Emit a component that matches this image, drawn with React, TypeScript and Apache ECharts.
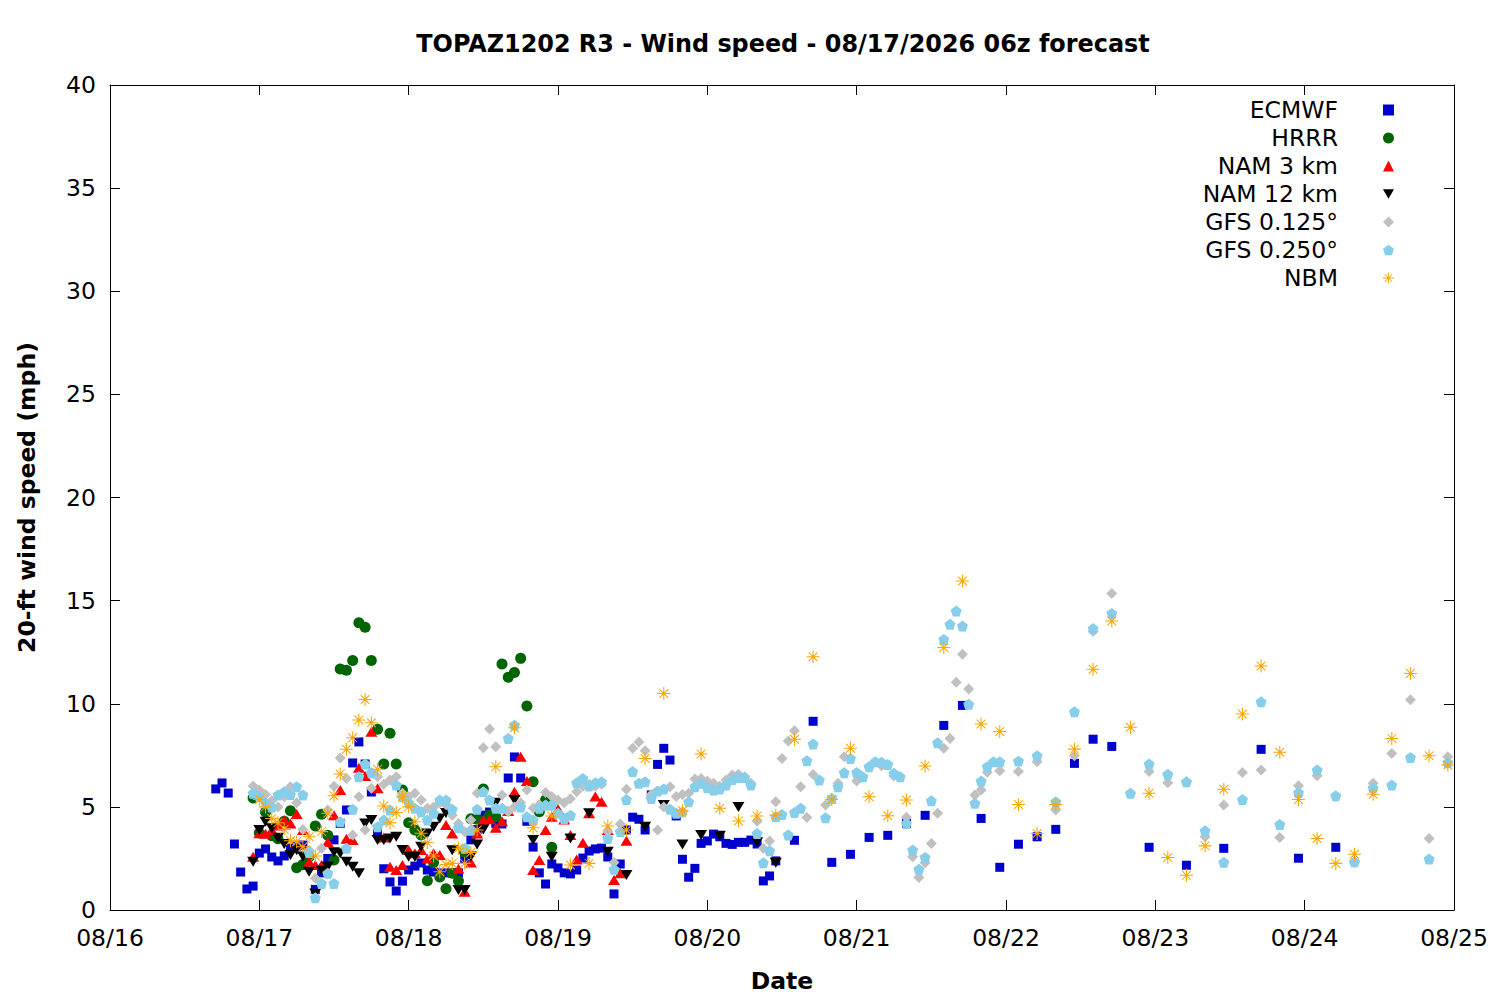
import React, { useEffect, useRef } from 'react';
import * as echarts from 'echarts';

// x values are hours since 08/16 00z
const dateLabels = ['08/16', '08/17', '08/18', '08/19', '08/20', '08/21', '08/22', '08/23', '08/24', '08/25'];
const yTicks = [0, 5, 10, 15, 20, 25, 30, 35, 40];
const seriesNames = ['ECMWF', 'HRRR', 'NAM 3 km', 'NAM 12 km', 'GFS 0.125°', 'GFS 0.250°', 'NBM'];

const ecmwf: number[][] = [
  [17, 5.87], [18, 6.16], [19, 5.67], [20, 3.2], [21, 1.84], [22, 1.02], [23, 1.16], [24, 2.76], [25, 2.96], [26, 2.57],
  [27, 2.38], [28, 2.62], [29, 3.0], [30, 3.1], [31, 3.15], [32, 2.67], [33, 1.0], [34, 1.8], [35, 2.5], [36, 3.4],
  [37, 4.2], [38, 4.85], [39, 7.13], [40, 8.15], [41, 7.08], [42, 5.72], [43, 3.78], [44, 2.0], [45, 1.36], [46, 0.92],
  [47, 1.4], [48, 1.94], [49, 2.13], [50, 2.28], [51, 1.94], [52, 1.84], [53, 1.8], [54, 1.8], [55, 1.8], [56, 1.8],
  [57, 2.5], [58, 3.4], [59, 3.9], [60, 4.6], [61, 4.75], [62, 4.2], [63, 4.17], [64, 6.4], [65, 7.42], [66, 6.4],
  [67, 4.3], [68, 3.05], [69, 1.8], [70, 1.26], [71, 2.23], [72, 2.04], [73, 1.8], [74, 1.75], [75, 1.94], [76, 2.52],
  [77, 2.86], [78, 2.96], [79, 3.0], [80, 2.57], [81, 0.78], [82, 2.23], [83, 3.88], [84, 4.5], [85, 4.4], [86, 3.88],
  [87, 5.58], [88, 7.06], [89, 7.84], [90, 7.27], [91, 4.56], [92, 2.46], [93, 1.59], [94, 2.02], [95, 3.23], [96, 3.35],
  [97, 3.68], [98, 3.55], [99, 3.23], [100, 3.18], [101, 3.28], [102, 3.28], [103, 3.39], [104, 3.2], [105, 1.41], [106, 1.65],
  [107, 2.38], [110, 3.38], [113, 9.15], [116, 2.31], [119, 2.7], [122, 3.52], [125, 3.62], [128, 4.2], [131, 4.59], [134, 8.95],
  [137, 9.92], [140, 4.44], [143, 2.07], [146, 3.19], [149, 3.55], [152, 3.91], [155, 7.11], [158, 8.28], [161, 7.93], [167, 3.04],
  [173, 2.17], [179, 2.99], [185, 7.79], [191, 2.51], [197, 3.04],
];

const hrrr: number[][] = [
  [23, 5.43], [24, 3.73], [25, 4.75], [26, 3.6], [27, 3.45], [28, 4.3], [29, 4.81], [30, 2.05], [31, 2.2], [32, 2.58],
  [33, 4.07], [34, 4.64], [35, 3.62], [36, 2.42], [37, 11.68], [38, 11.62], [39, 12.1], [40, 13.93], [41, 13.71], [42, 12.1],
  [43, 8.76], [44, 7.08], [45, 8.57], [46, 7.08], [47, 5.82], [48, 4.23], [49, 3.88], [50, 3.64], [51, 1.42], [52, 2.3],
  [53, 1.6], [54, 1.03], [55, 1.78], [56, 1.41], [57, 2.8], [58, 4.42], [59, 4.4], [60, 5.87], [61, 4.6], [62, 4.52],
  [63, 11.93], [64, 11.28], [65, 11.52], [66, 12.2], [67, 9.89], [68, 6.22], [69, 4.76], [70, 5.33], [71, 3.04],
];

const nam3: number[][] = [
  [23, 2.58], [24, 3.72], [25, 3.7], [26, 3.88], [27, 4.1], [28, 4.36], [29, 4.2], [30, 4.65], [31, 3.88], [32, 2.34],
  [33, 2.18], [34, 2.18], [35, 3.3], [36, 4.6], [37, 5.82], [38, 3.45], [39, 3.39], [40, 6.9], [41, 6.5], [42, 8.64],
  [43, 5.9], [44, 3.52], [45, 2.1], [46, 1.94], [47, 2.18], [48, 2.91], [49, 2.75], [50, 2.91], [51, 2.5], [52, 2.75],
  [53, 2.67], [54, 4.12], [55, 3.71], [56, 2.0], [57, 0.89], [58, 2.3], [59, 3.71], [60, 4.36], [61, 4.4], [62, 3.99],
  [63, 4.3], [64, 4.8], [65, 5.73], [66, 7.43], [67, 6.25], [68, 1.94], [69, 2.42], [70, 3.88], [71, 4.52], [72, 4.9],
  [73, 4.39], [74, 3.64], [75, 2.45], [76, 3.26], [77, 4.69], [78, 5.5], [79, 5.25], [80, 3.88], [81, 1.45], [82, 1.78],
  [83, 3.36],
];

const nam12: number[][] = [
  [23, 2.34], [24, 3.88], [25, 4.28], [26, 3.96], [27, 3.5], [28, 3.2], [29, 2.67], [30, 2.9], [31, 2.6], [32, 1.85],
  [33, 0.8], [34, 1.9], [35, 2.1], [36, 2.8], [37, 2.75], [38, 2.34], [39, 2.1], [40, 1.78], [41, 4.2], [42, 4.36],
  [43, 3.4], [44, 3.39], [45, 3.47], [46, 3.55], [47, 2.91], [48, 2.58], [49, 2.58], [50, 3.07], [51, 3.71], [52, 4.04],
  [53, 4.44], [54, 4.7], [55, 2.9], [56, 0.97], [57, 0.97], [58, 2.6], [59, 3.17], [60, 3.9], [62, 5.2], [65, 5.33],
  [68, 3.39], [71, 2.58], [74, 3.47], [77, 4.69], [80, 2.82], [83, 1.7], [86, 4.04], [89, 5.09], [92, 3.18], [95, 3.64],
  [98, 3.6], [101, 5.0], [104, 3.28], [107, 2.29],
];

const gfs125: number[][] = [
  [23, 6.01], [24, 5.82], [25, 5.6], [26, 5.3], [27, 5.0], [28, 5.5], [29, 5.98], [30, 5.2], [31, 3.9], [32, 2.9],
  [33, 1.54], [34, 2.99], [35, 4.85], [36, 6.0], [37, 7.37], [38, 6.38], [39, 3.64], [40, 5.49], [41, 3.88], [42, 5.9],
  [43, 6.46], [44, 6.1], [45, 6.3], [46, 6.46], [47, 5.66], [48, 5.5], [49, 5.66], [50, 5.33], [51, 4.93], [52, 5.0],
  [53, 5.2], [54, 5.1], [55, 4.6], [56, 4.2], [57, 3.8], [58, 4.36], [59, 5.66], [60, 7.87], [61, 8.77], [62, 7.92],
  [63, 5.58], [64, 4.76], [65, 5.0], [66, 5.2], [67, 5.82], [68, 4.93], [69, 5.1], [70, 5.7], [71, 5.5], [72, 5.33],
  [73, 5.2], [74, 5.4], [75, 5.73], [76, 6.0], [77, 6.1], [78, 6.0], [79, 6.1], [80, 3.8], [81, 2.3], [82, 4.17],
  [83, 5.85], [84, 7.84], [85, 8.15], [86, 7.72], [87, 5.6], [88, 3.88], [89, 5.0], [90, 5.98], [91, 5.5], [92, 5.6],
  [93, 5.66], [94, 6.35], [95, 6.38], [96, 6.25], [97, 6.14], [98, 6.0], [99, 6.3], [100, 6.55], [101, 6.58], [102, 6.46],
  [103, 6.14], [104, 4.3], [105, 3.0], [106, 3.35], [107, 5.25], [108, 7.35], [109, 8.19], [110, 8.69], [111, 5.98], [112, 4.49],
  [113, 6.57], [115, 5.09], [117, 6.14], [118, 7.43], [120, 6.25], [122, 6.95], [124, 7.0], [126, 6.5], [128, 4.5], [129, 2.58],
  [130, 1.58], [131, 2.29], [132, 3.23], [133, 4.69], [134, 7.84], [135, 8.32], [136, 11.04], [137, 12.4], [138, 10.71], [139, 5.58],
  [140, 5.82], [141, 6.68], [143, 6.75], [146, 6.71], [149, 7.19], [152, 4.85], [155, 7.48], [158, 13.5], [161, 15.35], [164, 5.66],
  [167, 6.71], [170, 6.17], [173, 6.22], [176, 3.55], [179, 5.09], [182, 6.67], [185, 6.79], [188, 3.52], [191, 6.02], [194, 6.51],
  [197, 5.5], [200, 2.3], [203, 6.14], [206, 7.59], [209, 10.2], [212, 3.47], [215, 7.43],
];

const gfs250: number[][] = [
  [23, 5.66], [24, 5.5], [25, 5.2], [26, 5.0], [27, 5.58], [28, 5.73], [29, 5.6], [30, 5.98], [31, 5.58], [32, 2.79],
  [33, 0.59], [34, 1.29], [35, 1.78], [36, 1.29], [37, 4.28], [38, 2.99], [39, 4.88], [40, 6.46], [41, 7.08], [42, 6.66],
  [43, 4.04], [44, 4.36], [45, 4.85], [46, 6.06], [47, 5.5], [48, 5.2], [49, 4.93], [50, 4.76], [51, 4.36], [52, 4.69],
  [53, 5.33], [54, 5.33], [55, 4.88], [56, 4.0], [57, 3.0], [58, 3.88], [59, 4.88], [60, 5.73], [61, 5.33], [62, 4.93],
  [63, 4.93], [64, 8.32], [65, 8.97], [66, 5.0], [67, 4.52], [68, 4.36], [69, 4.93], [70, 5.09], [71, 5.09], [72, 4.69],
  [73, 4.44], [74, 4.6], [75, 6.17], [76, 6.38], [77, 6.01], [78, 6.17], [79, 6.22], [80, 3.47], [81, 1.97], [82, 3.79],
  [83, 5.36], [84, 6.71], [85, 6.14], [86, 6.22], [87, 5.41], [88, 5.77], [89, 5.87], [90, 4.88], [91, 4.69], [92, 4.76],
  [93, 5.25], [94, 5.98], [95, 6.14], [96, 5.93], [97, 5.82], [98, 5.87], [99, 6.06], [100, 6.33], [101, 6.43], [102, 6.43],
  [103, 6.06], [104, 3.71], [105, 2.29], [106, 2.87], [107, 4.52], [108, 4.63], [109, 3.64], [110, 4.73], [111, 4.93], [112, 7.24],
  [113, 8.05], [114, 6.3], [115, 4.47], [116, 5.41], [117, 5.98], [118, 6.66], [119, 7.35], [120, 6.67], [121, 6.46], [122, 6.95],
  [123, 7.19], [124, 7.16], [125, 7.06], [126, 6.63], [127, 6.46], [128, 4.2], [129, 2.91], [130, 1.97], [131, 2.55], [132, 5.3],
  [133, 8.11], [134, 13.12], [135, 13.85], [136, 14.5], [137, 13.77], [138, 9.97], [139, 5.17], [140, 6.25], [141, 6.95], [142, 7.19],
  [143, 7.19], [146, 7.22], [149, 7.48], [152, 5.25], [155, 9.61], [158, 13.65], [161, 14.38], [164, 5.66], [167, 7.08], [170, 6.58],
  [173, 6.22], [176, 3.84], [179, 2.31], [182, 5.36], [185, 10.1], [188, 4.15], [191, 5.69], [194, 6.79], [197, 5.54], [200, 2.34],
  [203, 5.93], [206, 6.06], [209, 7.4], [212, 2.47], [215, 7.14],
];

const nbm: number[][] = [
  [24, 5.36], [25, 5.0], [26, 4.44], [27, 4.23], [28, 3.91], [29, 3.36], [30, 3.31], [31, 3.07], [32, 3.55], [33, 2.62],
  [34, 3.8], [35, 4.69], [36, 5.54], [37, 6.59], [38, 7.79], [39, 8.35], [40, 9.21], [41, 10.21], [42, 9.08], [43, 6.82],
  [44, 5.04], [45, 4.23], [46, 4.73], [47, 5.49], [48, 5.0], [49, 4.28], [50, 3.72], [51, 3.26], [52, 2.62], [53, 1.85],
  [54, 2.21], [55, 2.26], [56, 2.99], [57, 2.26], [58, 2.79], [59, 3.88], [62, 6.95], [65, 8.84], [68, 3.99], [71, 4.56],
  [74, 2.18], [77, 2.26], [80, 4.07], [83, 3.88], [86, 7.35], [89, 10.5], [92, 4.81], [95, 7.56], [98, 4.93], [101, 4.32],
  [104, 4.56], [107, 4.6], [110, 8.28], [113, 12.28], [116, 5.36], [119, 7.84], [122, 5.49], [125, 4.57], [128, 5.33], [131, 6.98],
  [134, 12.73], [137, 15.95], [140, 9.02], [143, 8.65], [146, 5.12], [149, 3.71], [152, 5.12], [155, 7.8], [158, 11.67], [161, 14.01],
  [164, 8.86], [167, 5.66], [170, 2.55], [173, 1.68], [176, 3.11], [179, 5.85], [182, 9.5], [185, 11.83], [188, 7.65], [191, 5.36],
  [194, 3.47], [197, 2.26], [200, 2.7], [203, 5.61], [206, 8.32], [209, 11.47], [212, 7.48], [215, 7.03],
];

const PENTAGON = 'path://M10 0.5L19.5 7.4L15.9 18.6L4.1 18.6L0.5 7.4Z';
const DOWN_TRIANGLE = 'path://M0 0L20 0L10 17Z';
const STAR =
  'path://M0 9.2H20V10.8H0Z M9.2 0H10.8V20H9.2Z M3.8 2.7L17.3 16.2L16.2 17.3L2.7 3.8Z M16.2 2.7L17.3 3.8L3.8 17.3L2.7 16.2Z';

const FONT = 'DejaVu Sans';
const FS = 23.5;

export default function App() {
  const ref = useRef<HTMLDivElement>(null);
  useEffect(() => {
    if (!ref.current) return;
    const chart = echarts.init(ref.current, null, { renderer: 'svg' });
    const mk = (name: string, data: number[][], symbol: string, size: any, color: string) => ({
      name,
      type: 'scatter',
      data,
      symbol,
      symbolSize: size,
      itemStyle: { color, opacity: 1 },
      silent: true,
    });
    const axisCommon = {
      type: 'value',
      axisLine: { show: true, onZero: false, lineStyle: { color: '#000', width: 1 } },
      axisTick: { show: true, inside: true, length: 10, lineStyle: { color: '#000', width: 1 } },
      splitLine: { show: false },
      minorTick: { show: false },
    };
    chart.setOption({
      animation: false,
      backgroundColor: '#fff',
      textStyle: { fontFamily: FONT },
      title: {
        text: 'TOPAZ1202 R3 - Wind speed - 08/17/2026 06z forecast',
        left: 778,
        top: 27,
        textAlign: 'center',
        textStyle: { fontFamily: FONT, fontSize: 23.9, fontWeight: 'bold', color: '#000' },
      },
      grid: { left: 110, right: 46, top: 85, bottom: 90, containLabel: false },
      legend: {
        orient: 'vertical',
        right: 106,
        top: 96,
        align: 'right',
        padding: 0,
        itemGap: 0,
        itemWidth: 11,
        itemHeight: 11,
        selectedMode: false,
        data: seriesNames,
        textStyle: { fontFamily: FONT, fontSize: FS, color: '#000', lineHeight: 28, padding: [0, 40, 0, 0] },
      },
      xAxis: [
        {
          ...axisCommon,
          min: 0,
          max: 216,
          interval: 24,
          position: 'bottom',
          name: 'Date',
          nameLocation: 'middle',
          nameGap: 59,
          nameTextStyle: { fontFamily: FONT, fontSize: FS, fontWeight: 'bold', color: '#000' },
          axisLabel: {
            show: true,
            margin: 16,
            color: '#000',
            fontFamily: FONT,
            fontSize: FS,
            showMinLabel: true,
            showMaxLabel: true,
            formatter: (v: number) => dateLabels[Math.round(v / 24)] ?? '',
          },
        },
        {
          ...axisCommon,
          min: 0,
          max: 216,
          interval: 24,
          position: 'top',
          axisLabel: { show: false },
        },
      ],
      yAxis: [
        {
          ...axisCommon,
          min: yTicks[0],
          max: yTicks[yTicks.length - 1],
          interval: 5,
          position: 'left',
          name: '20-ft wind speed (mph)',
          nameLocation: 'middle',
          nameRotate: 90,
          nameGap: 71,
          nameTextStyle: { fontFamily: FONT, fontSize: FS, fontWeight: 'bold', color: '#000' },
          axisLabel: { show: true, margin: 14, color: '#000', fontFamily: FONT, fontSize: FS },
        },
        {
          ...axisCommon,
          min: yTicks[0],
          max: yTicks[yTicks.length - 1],
          interval: 5,
          position: 'right',
          axisLabel: { show: false },
        },
      ],
      series: [
        mk(seriesNames[0], ecmwf, 'rect', 9, '#0000cd'),
        mk(seriesNames[1], hrrr, 'circle', 11, '#006400'),
        mk(seriesNames[2], nam3, 'triangle', [12, 10], '#ff0000'),
        mk(seriesNames[3], nam12, DOWN_TRIANGLE, [12, 10], '#000000'),
        mk(seriesNames[4], gfs125, 'diamond', 11, '#c0c0c0'),
        mk(seriesNames[5], gfs250, PENTAGON, 11, '#87ceeb'),
        mk(seriesNames[6], nbm, STAR, 13, '#ffa500'),
      ],
    });
    return () => chart.dispose();
  }, []);
  return <div ref={ref} style={{ position: 'fixed', left: 0, top: 0, width: 1500, height: 1000 }} />;
}
